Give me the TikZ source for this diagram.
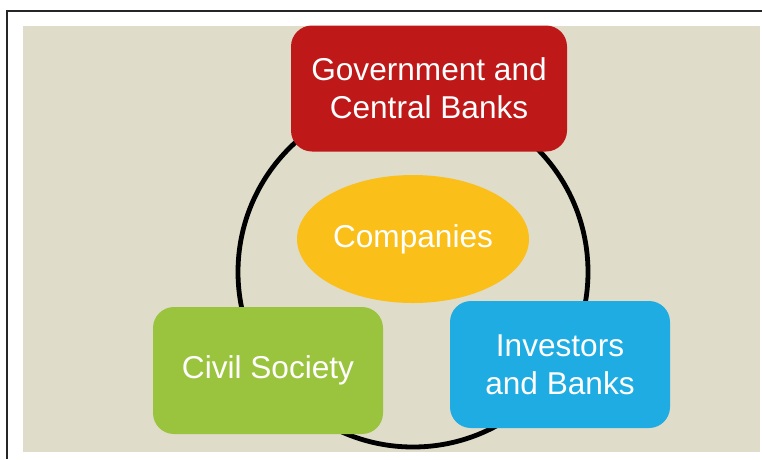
\documentclass[tikz,border=0pt]{standalone}
\usepackage{fontspec}
\setmainfont{Liberation Sans}
\usetikzlibrary{shapes.geometric}
\definecolor{beige}{HTML}{DFDCCA}
\definecolor{boxred}{HTML}{BE1818}
\definecolor{boxyellow}{HTML}{FBBF1A}
\definecolor{boxgreen}{HTML}{9BC43E}
\definecolor{boxblue}{HTML}{1EACE2}
\tikzset{
  lbl/.style={text=white, font=\fontsize{31.6}{38}\selectfont, align=center, inner sep=0pt},
  rbox/.style={lbl, rectangle, rounded corners=21pt, draw=none},
}
\begin{document}
\begin{tikzpicture}[x=1pt,y=-1pt]
\useasboundingbox (0,0) rectangle (762,459);
\fill[white] (0,0) rectangle (762,459);
% frame lines
\coordinate (ftl) at (7,10.5);
\coordinate (ftr) at (762,10.5);
\coordinate (fbl) at (7,459);
\draw[line width=2pt, black!85] (ftr) -- (ftl) -- (fbl);
% beige panel
\fill[beige] (23,26) rectangle (760,452);
% ring
\node[circle, draw=black, line width=4.8pt, minimum size=350pt, inner sep=0pt] (ring) at (413,272) {};
% boxes
\node[rbox, fill=boxred, minimum width=276pt, minimum height=126pt] (gov) at (429,88.5) {Government and\\Central Banks};
\node[rbox, fill=boxgreen, minimum width=230pt, minimum height=127pt] (civ) at (268,370.5) {Civil Society};
\node[rbox, fill=boxblue, minimum width=220pt, minimum height=127pt] (inv) at (560,364.5) {Investors\\and Banks};
\node[lbl, ellipse, fill=boxyellow, minimum width=232pt, minimum height=128pt] (comp) at (413,239) {Companies};
\end{tikzpicture}
\end{document}
